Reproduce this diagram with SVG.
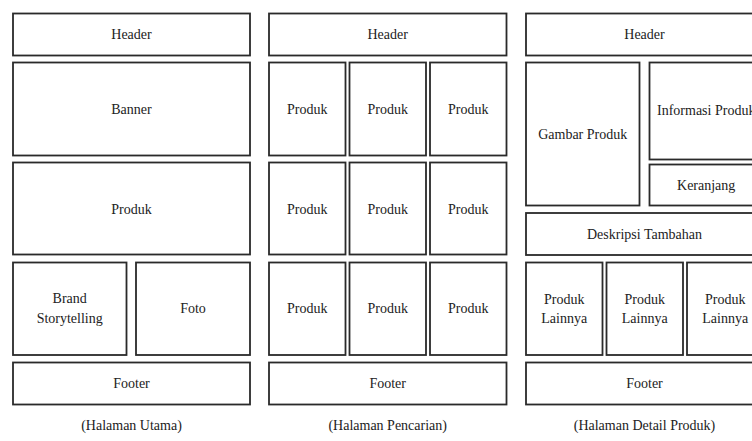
<svg xmlns="http://www.w3.org/2000/svg" width="752" height="441" viewBox="0 0 752 441">
<style>
rect.b{fill:#fff;stroke:#2a2a2a;stroke-width:1.8}
text{font-family:'Liberation Serif','Times New Roman','DejaVu Serif',serif;font-size:14px;fill:#222;text-anchor:middle}
</style>
<rect width="752" height="441" fill="#fff"/>
<g font-family="Liberation Serif, serif">
<g id="utama">
<g id="u-header"><rect class="b" x="13" y="13.5" width="237" height="42"/><text x="131.5" y="39">Header</text></g>
<g id="u-banner"><rect class="b" x="13" y="62.5" width="237" height="93"/><text x="131.5" y="113.5">Banner</text></g>
<g id="u-produk"><rect class="b" x="13" y="162.5" width="237" height="92"/><text x="131.5" y="213.5">Produk</text></g>
<g id="u-brand"><rect class="b" x="13" y="262.5" width="113.5" height="92.5"/><text x="69.7" y="303">Brand</text><text x="69.7" y="323">Storytelling</text></g>
<g id="u-foto"><rect class="b" x="136" y="262.5" width="114" height="92.5"/><text x="193" y="313">Foto</text></g>
<g id="u-footer"><rect class="b" x="13" y="362.5" width="237" height="42"/><text x="131.5" y="388">Footer</text></g>
<text x="131.5" y="430">(Halaman Utama)</text>
</g>
<g id="pencarian">
<g id="p-header"><rect class="b" x="269" y="13.5" width="237.5" height="42"/><text x="387.7" y="39">Header</text></g>
<g id="p-r1c1"><rect class="b" x="269" y="62.5" width="76.5" height="93"/><text x="307.2" y="113.5">Produk</text></g>
<g id="p-r1c2"><rect class="b" x="349.5" y="62.5" width="76.5" height="93"/><text x="387.7" y="113.5">Produk</text></g>
<g id="p-r1c3"><rect class="b" x="430" y="62.5" width="76.5" height="93"/><text x="468.2" y="113.5">Produk</text></g>
<g id="p-r2c1"><rect class="b" x="269" y="162.5" width="76.5" height="92"/><text x="307.2" y="213.5">Produk</text></g>
<g id="p-r2c2"><rect class="b" x="349.5" y="162.5" width="76.5" height="92"/><text x="387.7" y="213.5">Produk</text></g>
<g id="p-r2c3"><rect class="b" x="430" y="162.5" width="76.5" height="92"/><text x="468.2" y="213.5">Produk</text></g>
<g id="p-r3c1"><rect class="b" x="269" y="262.5" width="76.5" height="92.5"/><text x="307.2" y="313">Produk</text></g>
<g id="p-r3c2"><rect class="b" x="349.5" y="262.5" width="76.5" height="92.5"/><text x="387.7" y="313">Produk</text></g>
<g id="p-r3c3"><rect class="b" x="430" y="262.5" width="76.5" height="92.5"/><text x="468.2" y="313">Produk</text></g>
<g id="p-footer"><rect class="b" x="269" y="362.5" width="237.5" height="42"/><text x="387.7" y="388">Footer</text></g>
<text x="387.7" y="430">(Halaman Pencarian)</text>
</g>
<g id="detail">
<g id="d-header"><rect class="b" x="526" y="13.5" width="237" height="42"/><text x="644.5" y="39">Header</text></g>
<g id="d-gambar"><rect class="b" x="526" y="62.5" width="113.5" height="143"/><text x="582.7" y="138.5">Gambar Produk</text></g>
<g id="d-info"><rect class="b" x="649.5" y="62.5" width="113.5" height="97"/><text x="706.2" y="115">Informasi Produk</text></g>
<g id="d-keranjang"><rect class="b" x="649.5" y="164.5" width="113.5" height="41"/><text x="706.2" y="189.5">Keranjang</text></g>
<g id="d-deskripsi"><rect class="b" x="526" y="213" width="237" height="42"/><text x="644.5" y="238.5">Deskripsi Tambahan</text></g>
<g id="d-lain1"><rect class="b" x="526" y="262.5" width="76.5" height="92.5"/><text x="564.2" y="303.5">Produk</text><text x="564.2" y="323">Lainnya</text></g>
<g id="d-lain2"><rect class="b" x="606.5" y="262.5" width="76.5" height="92.5"/><text x="644.7" y="303.5">Produk</text><text x="644.7" y="323">Lainnya</text></g>
<g id="d-lain3"><rect class="b" x="687" y="262.5" width="76.5" height="92.5"/><text x="725.2" y="303.5">Produk</text><text x="725.2" y="323">Lainnya</text></g>
<g id="d-footer"><rect class="b" x="526" y="362.5" width="237" height="42"/><text x="644.5" y="388">Footer</text></g>
<text x="644.5" y="430">(Halaman Detail Produk)</text>
</g>
</g>
<g id="connectors"/>
</svg>
